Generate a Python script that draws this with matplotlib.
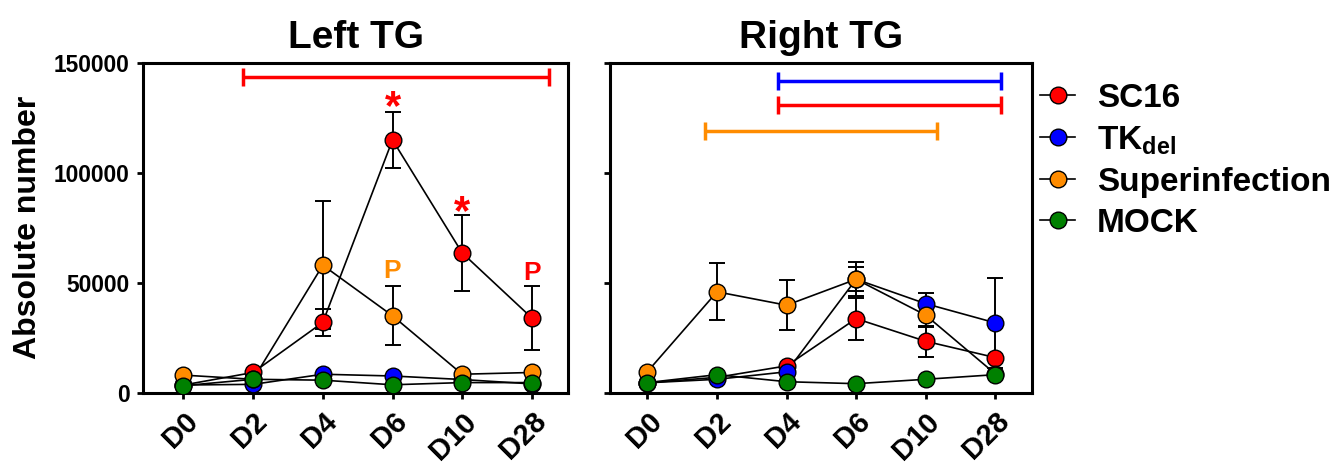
import matplotlib
matplotlib.use("Agg")
import matplotlib.pyplot as plt
import matplotlib.transforms as mtransforms
from matplotlib.lines import Line2D
import numpy as np

plt.rcParams['font.family'] = ['Liberation Sans', 'DejaVu Sans']
plt.rcParams['font.weight'] = 'bold'
plt.rcParams['mathtext.fontset'] = 'custom'
plt.rcParams['mathtext.rm'] = 'Liberation Sans:bold'
plt.rcParams['mathtext.bf'] = 'Liberation Sans:bold'

# ---------------- data ----------------
days = ["D0", "D2", "D4", "D6", "D10", "D28"]
series_names = ["SC16", r"TK$_{\mathrm{del}}$", "Superinfection", "MOCK"]
colors = ["#ff0000", "#0000ff", "#ff8c00", "#008000"]

# Left TG
left_sc16 = [3500, 9200, 32000, 115000, 63600, 34000]
left_sc16_err = [0, 0, 6000, 12800, 17400, 14600]
left_tk = [3500, 3800, 8400, 7600, 6000, 4000]
left_tk_err = [0, 0, 0, 0, 0, 0]
left_super = [8000, 6100, 58000, 35000, 8400, 9200]
left_super_err = [0, 0, 29000, 13500, 0, 0]
left_mock = [3200, 6100, 5700, 3600, 4600, 4600]
left_mock_err = [0, 0, 0, 0, 0, 0]

# Right TG
right_sc16 = [4500, 7000, 12200, 33700, 23400, 16000]
right_sc16_err = [0, 0, 0, 9500, 7000, 0]
right_tk = [4500, 6100, 9500, 51600, 40500, 31800]
right_tk_err = [0, 0, 0, 5400, 5000, 20600]
right_super = [9600, 45900, 39800, 51600, 35300, 8600]
right_super_err = [0, 13000, 11500, 7700, 5300, 0]
right_mock = [4600, 8200, 5000, 4100, 6100, 8200]
right_mock_err = [0, 0, 0, 0, 0, 0]

# significance bars: (x start, x end, y, colour index)
left_sig_start = [0.85]
left_sig_end = [5.25]
left_sig_y = [143800]
left_sig_color = [0]
right_sig_start = [1.87, 1.87, 0.83]
right_sig_end = [5.08, 5.08, 4.16]
right_sig_y = [141800, 130800, 119200]
right_sig_color = [1, 0, 2]

# annotations on left panel: (x index, y, text, colour index)
annot_x = [3, 4, 3, 5]
annot_y = [129500, 81500, 55200, 54600]
annot_text = ["*", "*", "P", "P"]
annot_color = [0, 0, 2, 0]

yticks = [0, 50000, 100000, 150000]

# drawing order of series (bottom to top): SC16, TKdel, Superinfection, MOCK
series_z = [3, 4, 5, 6]

# ---------------- figure ----------------
fig = plt.figure(figsize=(13.37, 4.66), dpi=100)
axL = fig.add_axes([0.107, 0.1573, 0.3179, 0.7075])
axR = fig.add_axes([0.4562, 0.1573, 0.3157, 0.7075])

x = np.arange(len(days))

def draw_panel(ax, vals, errs, title, xlim):
    for v in vals:
        ax.plot(x, v, color='black', lw=1.2, zorder=2)
    for v, e in zip(vals, errs):
        e = np.array(e, dtype=float)
        mask = e > 0
        if mask.any():
            ax.errorbar(x[mask], np.array(v)[mask], yerr=e[mask], fmt='none',
                        ecolor='black', elinewidth=1.4, capsize=6,
                        capthick=1.4, zorder=2.5)
    for i, v in enumerate(vals):
        ax.plot(x, v, ls='none', marker='o', markersize=12,
                markerfacecolor=colors[i], markeredgecolor='black',
                markeredgewidth=1.0, zorder=series_z[i])
    ax.set_xlim(*xlim)
    ax.set_ylim(0, 150000)
    ax.set_yticks(yticks)
    ax.set_xticks(x)
    ax.set_xticklabels(days, rotation=45, ha='right', va='top',
                       rotation_mode='anchor', fontsize=21, fontweight='bold')
    offset = mtransforms.ScaledTranslation(10 / 100, 1 / 100, fig.dpi_scale_trans)
    for lab in ax.get_xticklabels():
        lab.set_transform(lab.get_transform() + offset)
    for s in ax.spines.values():
        s.set_linewidth(2.2)
    ax.tick_params(axis='both', direction='out', length=4.5, width=2.0)
    ax.tick_params(axis='x', pad=6)
    ax.set_title(title, fontsize=28, fontweight='bold', pad=11)

draw_panel(axL, [left_sc16, left_tk, left_super, left_mock],
           [left_sc16_err, left_tk_err, left_super_err, left_mock_err],
           "Left TG", (-0.58, 5.52))
draw_panel(axR, [right_sc16, right_tk, right_super, right_mock],
           [right_sc16_err, right_tk_err, right_super_err, right_mock_err],
           "Right TG", (-0.54, 5.53))

axL.set_yticklabels([str(t) for t in yticks], fontsize=16.4, fontweight='bold')
axL.tick_params(axis='y', pad=5)
axR.set_yticklabels([])
axL.set_ylabel("Absolute number", fontsize=23, fontweight='bold', labelpad=8)

def draw_sig(ax, xs, xe, ys, cs):
    for a, b, yy, c in zip(xs, xe, ys, cs):
        ax.errorbar([(a + b) / 2], [yy], xerr=[(b - a) / 2], fmt='none',
                    ecolor=colors[c], elinewidth=2.5, capsize=6.5,
                    capthick=2.5, zorder=8, clip_on=False)

draw_sig(axL, left_sig_start, left_sig_end, left_sig_y, left_sig_color)
draw_sig(axR, right_sig_start, right_sig_end, right_sig_y, right_sig_color)

for xi, yi, t, c in zip(annot_x, annot_y, annot_text, annot_color):
    fs = 30 if t == "*" else 19
    axL.text(xi, yi, t, color=colors[c], fontsize=fs, fontweight='bold',
             ha='center', va='center', zorder=9)

handles = [Line2D([], [], color='black', lw=1.2, marker='o', markersize=12,
                  markerfacecolor=c, markeredgecolor='black', markeredgewidth=1.0)
           for c in colors]
fig.legend(handles, series_names, loc='upper left',
           bbox_to_anchor=(1040 / 1337, 1 - 83 / 466), frameon=False,
           prop={'size': 24, 'weight': 'bold'}, handlelength=1.05,
           handletextpad=0.65, labelspacing=0.3, borderpad=0, borderaxespad=0)

fig.savefig("out.png", dpi=100)
